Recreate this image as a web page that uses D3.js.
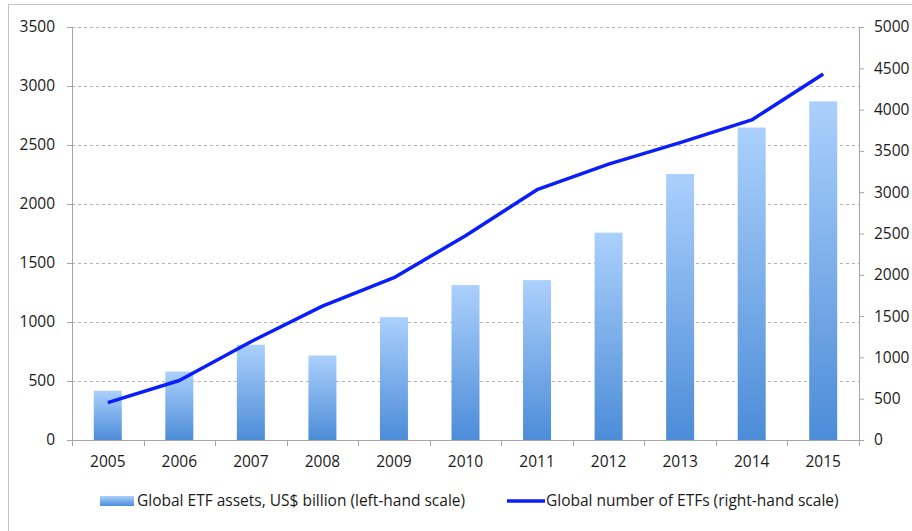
<!DOCTYPE html>
<html lang="en">
<head>
    <meta charset="UTF-8">
    <title>Global ETF assets and number of ETFs</title>
    <script src="https://d3js.org/d3.v7.min.js"></script>
    <style>
        body { margin: 0; background: #fff; font-family: "Open Sans", Arial, sans-serif; }
        .axis text { font-size: 15.5px; fill: #1a1a1a; font-family: "Open Sans", Arial, sans-serif; }
        .axis path, .axis line { stroke: #a6a6a6; }
        .legend text { font-size: 15.5px; fill: #1a1a1a; }
    </style>
</head>
<body>
    <svg width="912" height="531"></svg>
    <script>
        const years = ["2005", "2006", "2007", "2008", "2009", "2010", "2011", "2012", "2013", "2014", "2015"];
        const assets = [417, 580, 807, 716, 1041, 1313, 1355, 1757, 2254, 2648, 2870];
        const etfCount = [453, 720, 1190, 1620, 1965, 2473, 3030, 3340, 3600, 3875, 4430];
        const leftTicks = [0, 500, 1000, 1500, 2000, 2500, 3000, 3500];
        const rightTicks = [0, 500, 1000, 1500, 2000, 2500, 3000, 3500, 4000, 4500, 5000];

        const margin = { top: 27, right: 53, bottom: 91, left: 72 },
            width = 912 - margin.left - margin.right,
            height = 531 - margin.top - margin.bottom;

        const root = d3.select("svg");

        // outer frame
        root.append("rect")
            .attr("x", 8.5).attr("y", 4.5)
            .attr("width", 910).attr("height", 560)
            .attr("fill", "none").attr("stroke", "#c4c4c4");

        const defs = root.append("defs");
        const grad = defs.append("linearGradient")
            .attr("id", "barGrad").attr("x1", 0).attr("y1", 0).attr("x2", 0).attr("y2", 1);
        grad.append("stop").attr("offset", "0%").attr("stop-color", "#abd0fc");
        grad.append("stop").attr("offset", "100%").attr("stop-color", "#4c8cd8");

        const svg = root.append("g")
            .attr("transform", `translate(${margin.left},${margin.top})`);

        const x = d3.scaleBand().domain(years).range([0, width]);
        const yL = d3.scaleLinear().domain([0, 3500]).range([height, 0]);
        const yR = d3.scaleLinear().domain([0, 5000]).range([height, 0]);
        const barW = 28;

        // gridlines
        svg.append("g").selectAll("line")
            .data(leftTicks.filter(d => d > 0))
            .enter().append("line")
            .attr("x1", 0).attr("x2", width)
            .attr("y1", d => Math.round(yL(d)) + 0.5).attr("y2", d => Math.round(yL(d)) + 0.5)
            .attr("stroke", "#b3b3b3")
            .attr("stroke-dasharray", "3,3");

        // bars
        svg.selectAll(".bar")
            .data(years)
            .enter().append("rect")
            .attr("class", "bar")
            .attr("x", d => x(d) + (x.bandwidth() - barW) / 2)
            .attr("y", (d, i) => yL(assets[i]))
            .attr("width", barW)
            .attr("height", (d, i) => height - yL(assets[i]))
            .attr("fill", "url(#barGrad)");

        // axes
        const xAxis = svg.append("g").attr("class", "axis")
            .attr("transform", `translate(0,${height})`)
            .call(d3.axisBottom(x).tickSize(0).tickPadding(16));
        xAxis.selectAll(".bound")
            .data(d3.range(years.length + 1))
            .enter().append("line")
            .attr("x1", i => Math.round(i * x.step()) + 0.5)
            .attr("x2", i => Math.round(i * x.step()) + 0.5)
            .attr("y1", 0).attr("y2", 6)
            .attr("stroke", "#a6a6a6");

        svg.append("g").attr("class", "axis")
            .call(d3.axisLeft(yL).tickValues(leftTicks).tickFormat(d3.format("d"))
                .tickSizeOuter(0).tickSize(5).tickPadding(12));

        svg.append("g").attr("class", "axis")
            .attr("transform", `translate(${width},0)`)
            .call(d3.axisRight(yR).tickValues(rightTicks).tickFormat(d3.format("d"))
                .tickSizeOuter(0).tickSize(5).tickPadding(10));

        // line
        const line = d3.line()
            .x((d, i) => x(years[i]) + x.bandwidth() / 2)
            .y(d => yR(d));
        svg.append("path")
            .datum(etfCount)
            .attr("fill", "none")
            .attr("stroke", "#0a1efa")
            .attr("stroke-width", 3.5)
            .attr("stroke-linejoin", "round")
            .attr("d", line);

        // legend
        const legend = root.append("g").attr("class", "legend");
        legend.append("rect")
            .attr("x", 100).attr("y", 496).attr("width", 34).attr("height", 10)
            .attr("fill", "url(#barGrad)");
        legend.append("text")
            .attr("x", 137).attr("y", 501).attr("dy", "0.35em")
            .text("Global ETF assets, US$ billion (left-hand scale)");
        legend.append("line")
            .attr("x1", 507).attr("x2", 545).attr("y1", 501).attr("y2", 501)
            .attr("stroke", "#0a1efa").attr("stroke-width", 3.5);
        legend.append("text")
            .attr("x", 546).attr("y", 501).attr("dy", "0.35em")
            .text("Global number of ETFs (right-hand scale)");
    </script>
</body>
</html>
